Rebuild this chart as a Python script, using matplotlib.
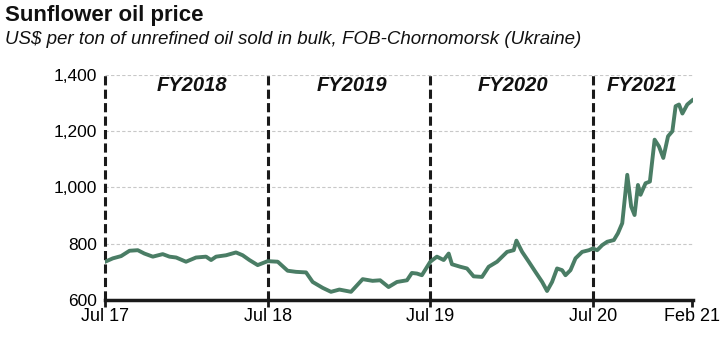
import matplotlib.pyplot as plt

plt.rcParams["font.family"] = ["Liberation Sans", "DejaVu Sans"]

# months since Jul 2017, price in US$/t
months = [0, 0.57, 1.18, 1.80, 2.41, 2.90, 3.52, 4.25, 4.75, 5.24, 5.97, 6.71, 7.45, 7.82,
          8.19, 8.93, 9.66, 10.15, 10.65, 11.26, 12.0, 12.74, 13.47, 14.09, 14.83, 15.32,
          16.06, 16.67, 17.29, 18.15, 19.01, 19.74, 20.30, 20.92, 21.54, 22.28, 22.64,
          23.01, 23.38, 24.0, 24.49, 24.99, 25.36, 25.60, 26.22, 26.71, 27.20, 27.82,
          28.31, 28.93, 29.67, 30.16, 30.36, 30.78, 31.27, 31.76, 32.26, 32.62, 32.99,
          33.36, 33.73, 33.98, 34.35, 34.72, 35.21, 35.71, 36.0, 36.32, 36.69, 37.06,
          37.55, 37.85, 38.17, 38.54, 38.83, 39.08, 39.33, 39.52, 39.89, 40.21, 40.56,
          40.88, 41.20, 41.55, 41.87, 42.11, 42.36, 42.61, 42.97, 43.34]
price = [736, 748, 756, 775, 777, 765, 754, 763, 754, 751, 736, 751, 754, 742,
         754, 759, 769, 759, 742, 724, 738, 736, 704, 700, 698, 664,
         643, 629, 637, 629, 674, 668, 670, 646, 664, 670, 696,
         694, 688, 736, 754, 742, 765, 727, 718, 712, 684, 682,
         718, 736, 771, 777, 811, 771, 736, 700, 664, 632, 664,
         712, 706, 688, 706, 748, 771, 777, 783, 777, 795, 807,
         813, 837, 873, 1045, 932, 902, 1009, 974, 1015, 1021, 1170,
         1146, 1105, 1182, 1200, 1289, 1295, 1263, 1295, 1310]

tick_pos = [0, 12, 24, 36, 43.34]
tick_labels = ["Jul 17", "Jul 18", "Jul 19", "Jul 20", "Feb 21"]
dividers = [0, 12, 24, 36]
fy_labels = ["FY2018", "FY2019", "FY2020", "FY2021"]
fy_pos = [6.4, 18.2, 30.1, 39.6]
y_ticks = [600, 800, 1000, 1200, 1400]

fig = plt.figure(figsize=(7.25, 3.44), dpi=100)
ax = fig.add_axes([0.145, 0.128, 0.811, 0.654])

for yv in y_ticks[1:]:
    ax.axhline(yv, color="#c8c8c8", lw=0.8, ls=(0, (3, 2)), zorder=0)

for d in dividers:
    ax.plot([d, d], [600, 1400], color="#1a1a1a", lw=2.2, dashes=(3, 1.4), zorder=2,
            clip_on=False)

for lab, p in zip(fy_labels, fy_pos):
    ax.text(p, 1362, lab, ha="center", va="center", fontsize=14.5,
            fontweight="bold", fontstyle="italic", color="#111111")

ax.plot(months, price, color="#4a7d65", lw=2.8, zorder=3, solid_joinstyle="round")

ax.set_xlim(0, 43.4)
ax.set_ylim(600, 1400)
ax.set_yticks(y_ticks)
ax.set_yticklabels([f"{v:,}" for v in y_ticks], fontsize=12.5)
ax.set_xticks(tick_pos)
ax.set_xticklabels(tick_labels, fontsize=13)
ax.tick_params(axis="y", length=0, pad=6)
ax.tick_params(axis="x", length=5, width=2, color="#1a1a1a", pad=1)

for s in ["left", "right", "top"]:
    ax.spines[s].set_visible(False)
ax.spines["bottom"].set_linewidth(2.5)
ax.spines["bottom"].set_color("#1a1a1a")

fig.text(0.007, 0.955, "Sunflower oil price", fontsize=16, fontweight="bold",
         va="center", color="#111111")
fig.text(0.007, 0.885, "US$ per ton of unrefined oil sold in bulk, FOB-Chornomorsk (Ukraine)",
         fontsize=13.5, fontstyle="italic", va="center", color="#111111")

fig.savefig("out.png", dpi=100)
